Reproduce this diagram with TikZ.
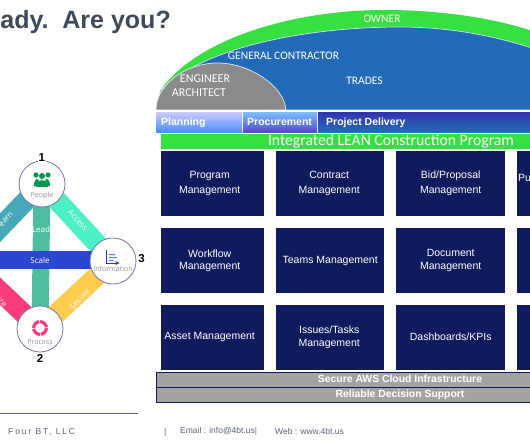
\documentclass[tikz,border=0pt]{standalone}
\usepackage{fontspec}
\setmainfont{Liberation Sans}
\newfontfamily\lat{Carlito}
\newfontfamily\ope{Open Sans}
\definecolor{navy}{HTML}{0F1B5C}
\definecolor{ogreen}{HTML}{35E040}
\definecolor{tblue}{HTML}{236BB8}
\definecolor{dgrey}{HTML}{8A8A8A}
\definecolor{barg}{HTML}{A3A3A3}
\definecolor{ttl}{HTML}{3E4A5C}
\definecolor{foot}{HTML}{5A6478}
\definecolor{ring}{HTML}{7078A8}
\definecolor{blearn}{HTML}{47A9B8}
\definecolor{bpink}{HTML}{F73B7C}
\definecolor{blead}{HTML}{4DBFA0}
\definecolor{baccess}{HTML}{4DEFC4}
\definecolor{bsecure}{HTML}{FFCC50}
\definecolor{bscale}{HTML}{2B46D0}
\tikzset{
 cell/.style={fill=navy,text=white,minimum height=65pt,align=center,font=\fontsize{10.5}{12.5}\selectfont,inner sep=1pt,anchor=north west},
 hub/.style={circle,draw=ring,line width=.8pt,fill=white,minimum size=46pt,inner sep=0pt},
 hubtxt/.style={text=gray!85,font=\ope\fontsize{7.1}{8}\selectfont},
 num/.style={font=\bfseries\fontsize{11.5}{12}\selectfont,text=black,fill=white,inner sep=1pt},
 band/.style={line width=#1,line cap=butt},
 bandtxt/.style={text=white,font=\ope\fontsize{8}{9}\selectfont},
 dome/.style={text=white,font=\lat\fontsize{11.5}{13}\selectfont},
 phase/.style={font=\bfseries\fontsize{10.5}{12}\selectfont,text=white,anchor=west,inner sep=0pt},
 support/.style={fill=barg,draw=navy,line width=.8pt,minimum height=15.3pt,minimum width=376pt,anchor=north west,inner sep=0pt},
 supporttxt/.style={font=\bfseries\fontsize{10.4}{12}\selectfont,text=white},
 foottxt/.style={text=foot,font=\fontsize{8.5}{10}\selectfont,anchor=west,inner sep=0pt}
}
\begin{document}
\begin{tikzpicture}[x=1pt,y=-1pt]
\useasboundingbox (0,0) rectangle (530,442);
\clip (0,0) rectangle (530,442);
\fill[white] (0,0) rectangle (530,442);
\node[anchor=east,inner sep=0pt,text=ttl,font=\bfseries\fontsize{25}{28}\selectfont] (title) at (171,22) {ady.\ \ Are you?};

% domes
\fill[ogreen] (158,110) -- (160,91) .. controls (195,40) and (290,10) .. (385,10) .. controls (440,10) and (495,18) .. (535,32) -- (535,110) -- cycle;
\fill[tblue,draw=white!80!tblue,line width=.7pt] (161,90) .. controls (205,46) and (310,27) .. (400,27) .. controls (450,27) and (495,36) .. (535,49) -- (535,110) -- (161,110) -- cycle;
\fill[dgrey,draw=white!80!dgrey,line width=.7pt] (156,110) .. controls (156,85) and (185,63) .. (218,63) .. controls (248,63) and (284,85) .. (286,110) -- cycle;
\node[dome] (owner) at (382,19) {OWNER};
\node[dome] (gc) at (283.5,56) {GENERAL CONTRACTOR};
\node[dome] (trades) at (364.5,81) {TRADES};
\node[dome,align=left,inner sep=0pt,font=\lat\fontsize{12}{14}\selectfont] (ea) at (201,86) {\hspace*{8pt}ENGINEER\\ARCHITECT};

% phases
\fill[white] (156,110) rectangle (531,134);
\shade[top color=white!80!blue,bottom color=blue!65!cyan!70!white] (156,112) rectangle (242,132);
\shade[top color=blue!50!cyan!50!white,bottom color=blue!70!black!70] (243,112) rectangle (317,132);
\shade[top color=blue!60!black!80,bottom color=tblue] (318,112) rectangle (531,132);
\node[phase] (plan) at (161,123) {Planning};
\node[phase] (proc) at (247,122) {Procurement};
\node[phase] (deliv) at (326,122.5) {Project Delivery};
\fill[ogreen] (161,134) rectangle (531,149);
\node[text=white,font=\lat\fontsize{15.7}{17}\selectfont] (ilcp) at (391,141.5) {Integrated LEAN Construction Program};

% cells
\node[cell,minimum width=103pt] (c11) at (161,151) {Program\hspace*{6pt}\\[2.5pt]Management\hspace*{6pt}};
\node[cell,minimum width=108pt] (c12) at (276,151) {Contract\hspace*{2pt}\\[2.5pt]Management\hspace*{2pt}};
\node[cell,minimum width=109pt] (c13) at (396,151) {Bid/Proposal\\[2.5pt]Management};
\node[cell,minimum width=30pt,align=left,text width=28pt] (c14) at (517,151) {Pu\\\ };
\node[cell,minimum width=103pt] (c21) at (161,228) {Workflow\hspace*{6pt}\\Management\hspace*{6pt}};
\node[cell,minimum width=108pt] (c22) at (276,228) {Teams Management};
\node[cell,minimum width=109pt] (c23) at (396,228) {Document\\Management};
\node[cell,minimum width=30pt] (c24) at (517,228) {};
\node[cell,minimum width=103pt] (c31) at (161,304.5) {Asset Management\hspace*{6pt}};
\node[cell,minimum width=108pt] (c32) at (276,304.5) {Issues/Tasks\hspace*{2pt}\\Management\hspace*{2pt}};
\node[cell,minimum width=109pt] (c33) at (396,304.5) {Dashboards/KPIs};
\node[cell,minimum width=30pt] (c34) at (517,304.5) {};

% support bars
\node[support] (aws) at (156,371.7) {};
\node[support] (rds) at (156,387) {};
\node[supporttxt] (awst) at (400,379) {Secure AWS Cloud Infrastructure};
\node[supporttxt] (rdst) at (400,395) {Reliable Decision Support};

% diamond
\coordinate (pc) at (42,184);
\coordinate (ic) at (113,261);
\coordinate (rc) at (40,329);
\coordinate (lc) at (-32,261);
\draw[band=20pt,draw=blearn] (pc) -- (lc);
\draw[band=20pt,draw=bpink] (rc) -- (lc);
\draw[band=17pt,draw=blead] (pc) -- (rc);
\draw[band=20pt,draw=baccess] (pc) -- (ic);
\draw[band=20pt,draw=bsecure] (rc) -- (ic);
\fill[bscale] (0,250.7) rectangle (100,269.3);
\node[bandtxt] (scale) at (40,260) {Scale};
\node[bandtxt] (lead) at (41,229) {Lead};
\node[bandtxt,rotate=-47] (access) at (78,220) {Access};
\node[bandtxt,rotate=47] (secure) at (80,299) {Secure};
\node[bandtxt,rotate=47,anchor=east,inner sep=0pt] (learn) at (12,213) {earn};
\node[bandtxt,rotate=-47,anchor=east,inner sep=0pt] (ize) at (6,306) {ize};
\node[hub] (people) at (pc) {};
\node[hub] (info) at (ic) {};
\node[hub] (process) at (rc) {};
\node[hubtxt] (peoplet) at (42,195.5) {People};
\node[hubtxt] (infot) at (113,269) {Information};
\node[hubtxt] (processt) at (40,342) {Process};
\node[num] (n1) at (41.7,158) {1};
\node[num] (n2) at (40,358.5) {2};
\node[num] (n3) at (141.5,259) {3};
% people icon
\begin{scope}[fill=teal!70!green!90!black]
\fill (36,175) circle (2.6); \fill (48,175) circle (2.6); \fill (42,176) circle (3);
\fill (34,186) .. controls (34,178) and (39,177) .. (39,182) -- (39,186) -- cycle;
\fill (50,186) .. controls (50,178) and (45,177) .. (45,182) -- (45,186) -- cycle;
\fill (36,187) .. controls (36,178) and (48,178) .. (48,187) -- cycle;
\end{scope}
% info icon
\draw[blue!60!black!80,line width=.9pt,-stealth] (106.5,250) -- (106.5,263) -- (119.5,263);
\fill[blue!70!cyan!70] (109,254) rectangle (115,255.2) (109,257) rectangle (117,258.2) (109,260) rectangle (113,261.2);
% process icon
\draw[bpink,line width=3.2pt,dash pattern=on 9pt off 1pt] (40,328) circle (6.4);

% footer
\draw[ring!80!black,line width=.7pt] (0,413) -- (138,413);
\node[foottxt,font=\fontsize{8.5}{10}\selectfont\addfontfeatures{LetterSpace=22}] (four) at (8,432) {Four BT, LLC};
\node[foottxt] (bar) at (164,432) {|};
\node[foottxt] (email) at (180,431.5) {Email : info@4bt.us|};
\node[foottxt] (web) at (275,431.5) {Web : www.4bt.us};
\end{tikzpicture}
\end{document}
